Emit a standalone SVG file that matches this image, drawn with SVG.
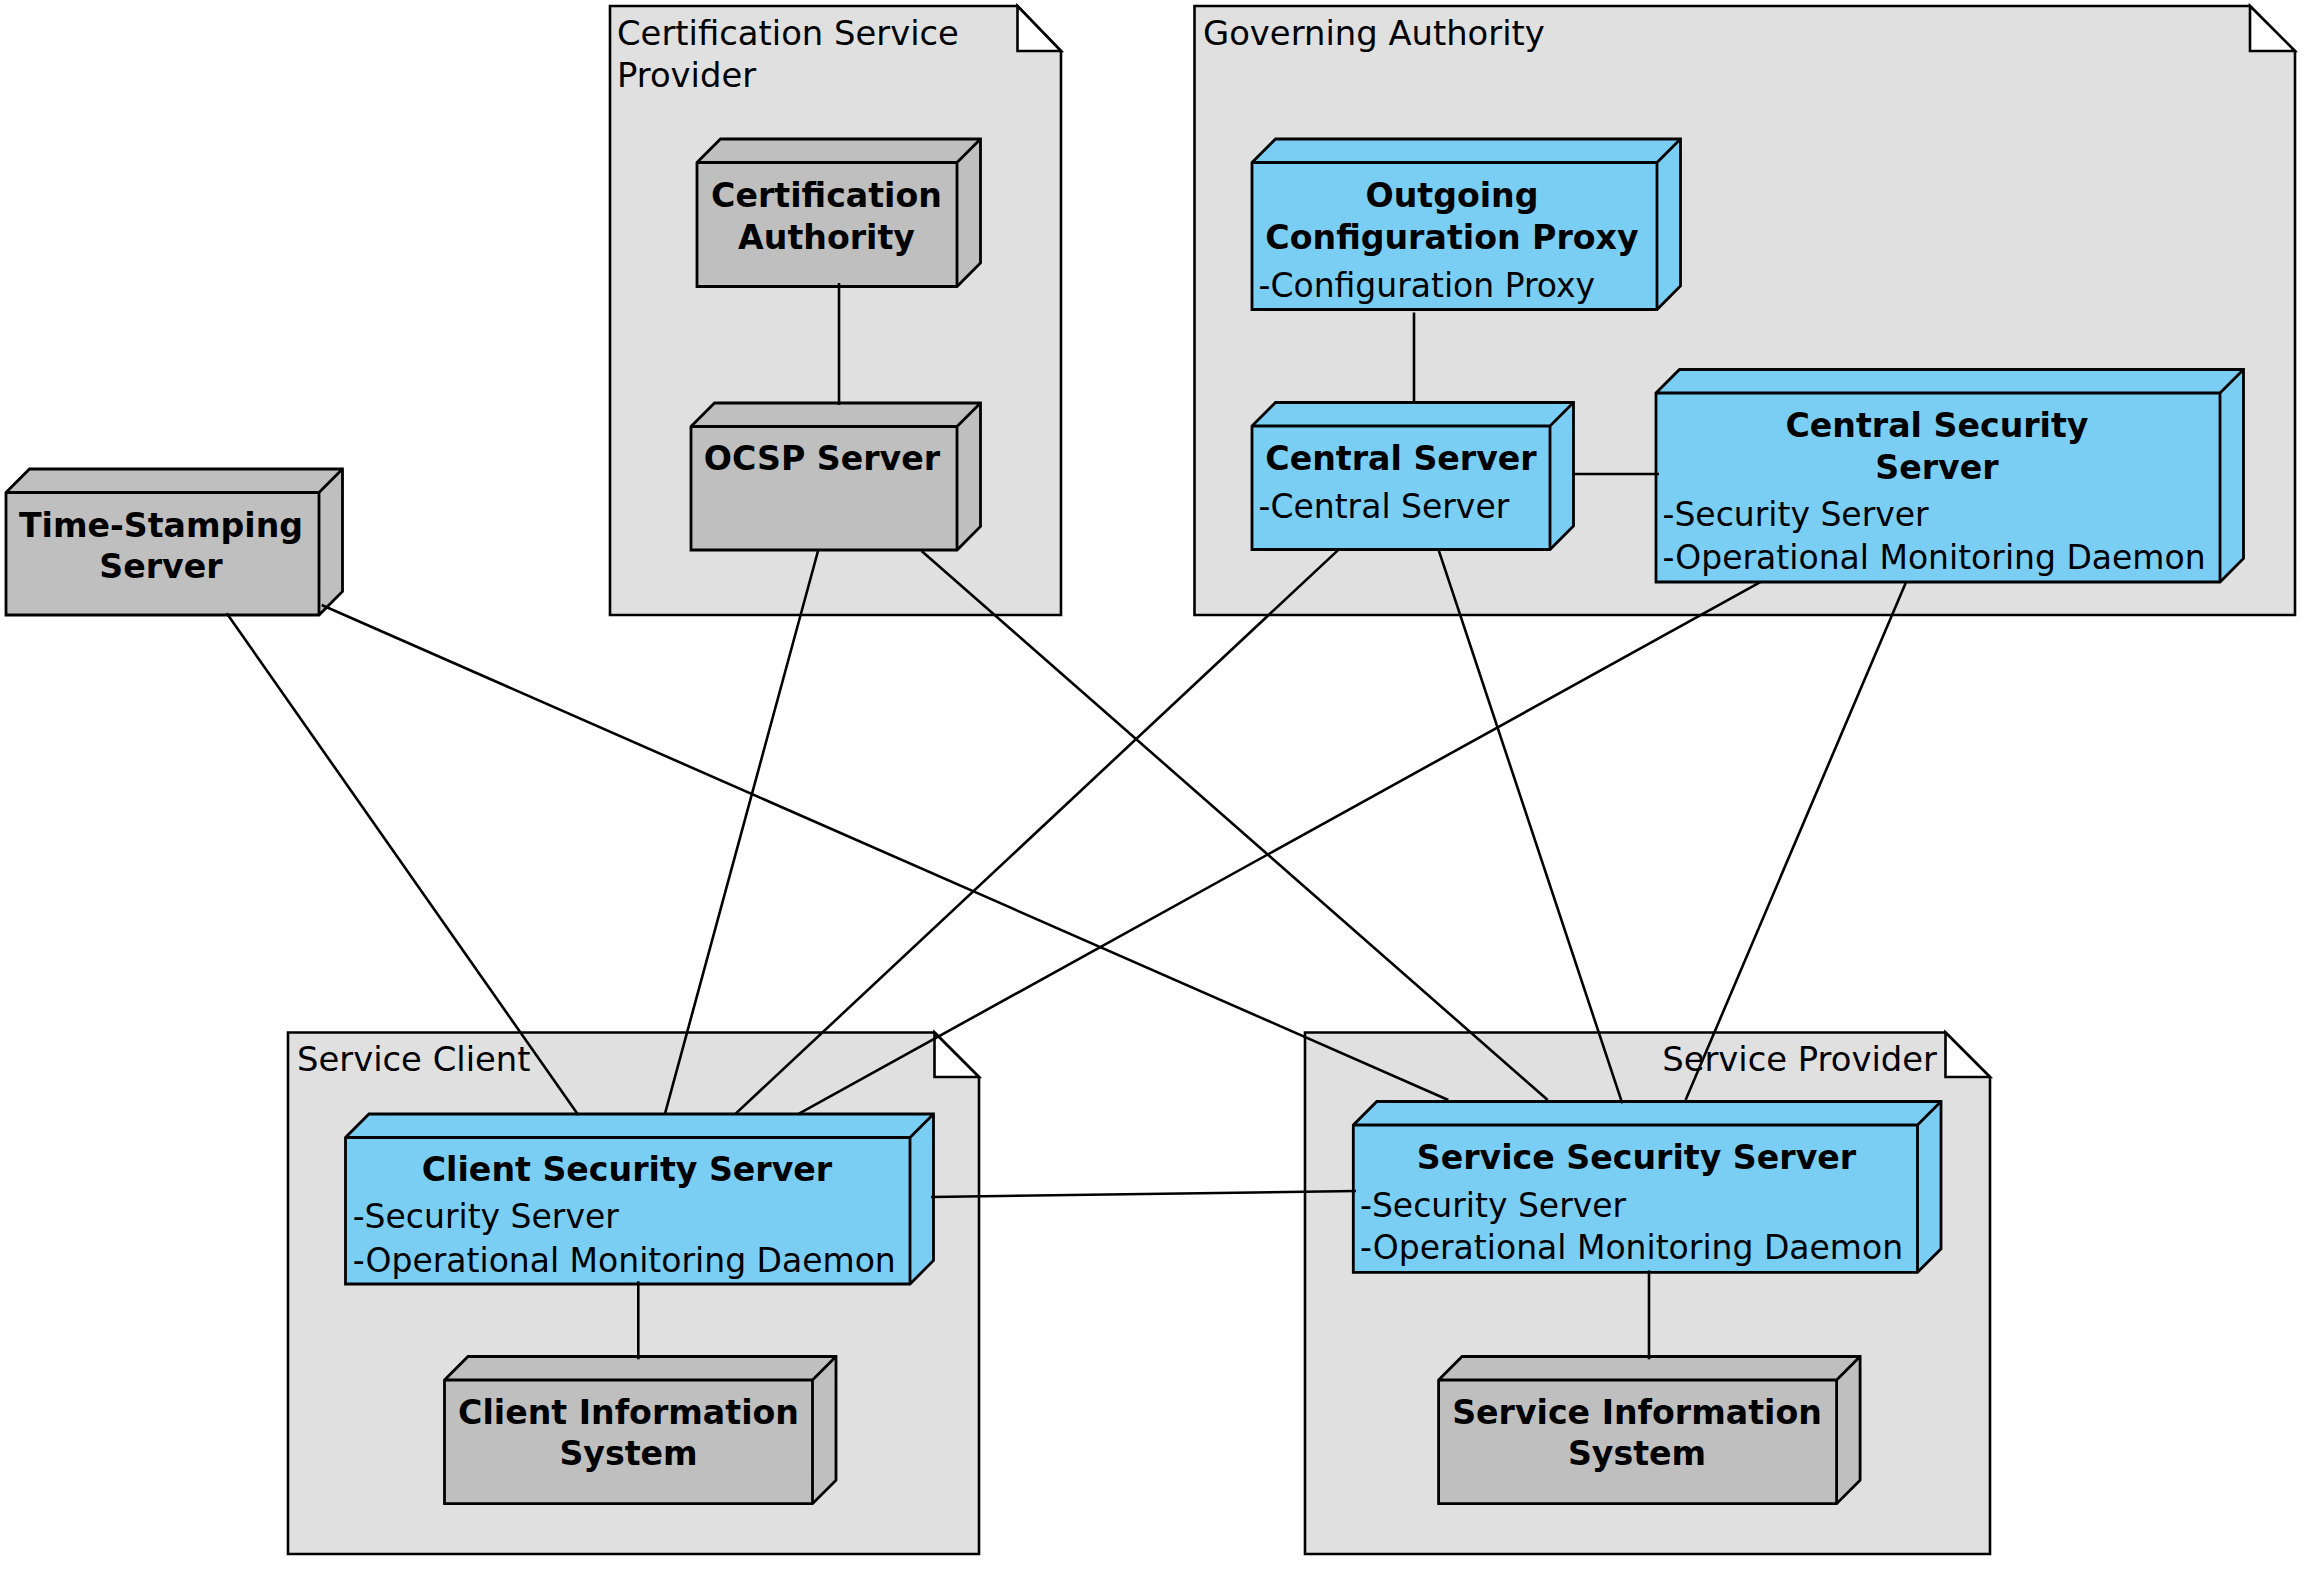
<svg xmlns="http://www.w3.org/2000/svg" width="2304" height="1569" viewBox="0 0 2304 1569">
<style>
.pkg{fill:#E0E0E0;stroke:#000;stroke-width:2.6;stroke-linejoin:miter}
.fold{fill:#FFFFFF;stroke:#000;stroke-width:2.6}
.blue{fill:#7ACEF4;stroke:#000;stroke-width:2.8;stroke-linejoin:miter}
.gray{fill:#BFBFBF;stroke:#000;stroke-width:2.8;stroke-linejoin:miter}
.edge{fill:none;stroke:#000;stroke-width:2.6}
.lbl{font-family:"DejaVu Sans","Liberation Sans",sans-serif;font-size:33.8px;fill:#000}
.name{font-family:"DejaVu Sans","Liberation Sans",sans-serif;font-size:33.2px;font-weight:bold;fill:#000;text-anchor:middle}
.attr{font-family:"DejaVu Sans","Liberation Sans",sans-serif;font-size:33px;fill:#000}
</style>
<rect width="2304" height="1569" fill="#FFFFFF"/>

<g id="pkg-csp">
<path class="pkg" d="M610,6 L1017.5,6 L1061,51 L1061,615 L610,615 Z"/>
<path class="fold" d="M1017.5,6 L1017.5,51 L1061,51 Z"/>
<text class="lbl" x="617" y="45">Certification Service</text>
<text class="lbl" x="617" y="87">Provider</text>
</g>
<g id="pkg-ga">
<path class="pkg" d="M1194.5,6 L2250,6 L2295,51 L2295,615 L1194.5,615 Z"/>
<path class="fold" d="M2250,6 L2250,51 L2295,51 Z"/>
<text class="lbl" x="1203" y="45">Governing Authority</text>
</g>
<g id="pkg-client">
<path class="pkg" d="M288,1032.5 L934.5,1032.5 L979,1077 L979,1554 L288,1554 Z"/>
<path class="fold" d="M934.5,1032.5 L934.5,1077 L979,1077 Z"/>
<text class="lbl" x="297" y="1071">Service Client</text>
</g>
<g id="pkg-provider">
<path class="pkg" d="M1305,1032.5 L1945.5,1032.5 L1990,1077 L1990,1554 L1305,1554 Z"/>
<path class="fold" d="M1945.5,1032.5 L1945.5,1077 L1990,1077 Z"/>
<text class="lbl" x="1937" y="1071" text-anchor="end">Service Provider</text>
</g>

<g id="node-tss">
<path class="gray" d="M6,492.5 L29.5,469 L342.5,469 L342.5,591.5 L319,615 L6,615 Z M6,492.5 L319,492.5 L319,615 M319,492.5 L342.5,469"/>
<text class="name" x="161" y="537.3">Time-Stamping</text>
<text class="name" x="161" y="578.3">Server</text>
</g>
<g id="node-ca">
<path class="gray" d="M697,162.5 L720.5,139 L980.5,139 L980.5,263 L957,286.5 L697,286.5 Z M697,162.5 L957,162.5 L957,286.5 M957,162.5 L980.5,139"/>
<text class="name" x="826.5" y="206.5">Certification</text>
<text class="name" x="826.5" y="248.5">Authority</text>
</g>
<g id="node-ocsp">
<path class="gray" d="M691,426.5 L714.5,403 L980.5,403 L980.5,526.5 L957,550 L691,550 Z M691,426.5 L957,426.5 L957,550 M957,426.5 L980.5,403"/>
<text class="name" x="822" y="469.5">OCSP Server</text>
</g>
<g id="node-ocp">
<path class="blue" d="M1252,162.5 L1275.5,139 L1680.5,139 L1680.5,286 L1657,309.5 L1252,309.5 Z M1252,162.5 L1657,162.5 L1657,309.5 M1657,162.5 L1680.5,139"/>
<text class="name" x="1452" y="207.3">Outgoing</text>
<text class="name" x="1452" y="249.3">Configuration Proxy</text>
<text class="attr" x="1258.5" y="296.7">-Configuration Proxy</text>
</g>
<g id="node-cs">
<path class="blue" d="M1252,426 L1275.5,402.5 L1573.5,402.5 L1573.5,526 L1550,549.5 L1252,549.5 Z M1252,426 L1550,426 L1550,549.5 M1550,426 L1573.5,402.5"/>
<text class="name" x="1401" y="469.5">Central Server</text>
<text class="attr" x="1258.5" y="517.5">-Central Server</text>
</g>
<g id="node-css">
<path class="blue" d="M1656,393 L1679.5,369.5 L2243.5,369.5 L2243.5,558.5 L2220,582 L1656,582 Z M1656,393 L2220,393 L2220,582 M2220,393 L2243.5,369.5"/>
<text class="name" x="1937" y="437">Central Security</text>
<text class="name" x="1937" y="478.5">Server</text>
<text class="attr" x="1662.5" y="526">-Security Server</text>
<text class="attr" x="1662.5" y="569">-Operational Monitoring Daemon</text>
</g>
<g id="node-clientss">
<path class="blue" d="M345.5,1137.5 L369,1114 L933.5,1114 L933.5,1260.5 L910,1284 L345.5,1284 Z M345.5,1137.5 L910,1137.5 L910,1284 M910,1137.5 L933.5,1114"/>
<text class="name" x="627" y="1181">Client Security Server</text>
<text class="attr" x="352.7" y="1228.3">-Security Server</text>
<text class="attr" x="352.7" y="1271.7">-Operational Monitoring Daemon</text>
</g>
<g id="node-cis">
<path class="gray" d="M444.5,1380 L468,1356.5 L836,1356.5 L836,1480.2 L812.5,1503.7 L444.5,1503.7 Z M444.5,1380 L812.5,1380 L812.5,1503.7 M812.5,1380 L836,1356.5"/>
<text class="name" x="628.5" y="1423.5">Client Information</text>
<text class="name" x="628.5" y="1465">System</text>
</g>
<g id="node-servicess">
<path class="blue" d="M1353.3,1125 L1376.8,1101.5 L1941,1101.5 L1941,1248.8 L1917.5,1272.3 L1353.3,1272.3 Z M1353.3,1125 L1917.5,1125 L1917.5,1272.3 M1917.5,1125 L1941,1101.5"/>
<text class="name" x="1636.5" y="1169">Service Security Server</text>
<text class="attr" x="1360" y="1216.7">-Security Server</text>
<text class="attr" x="1360" y="1259.3">-Operational Monitoring Daemon</text>
</g>
<g id="node-sis">
<path class="gray" d="M1438.6,1380 L1462.1,1356.5 L1860.1,1356.5 L1860.1,1480.2 L1836.6,1503.7 L1438.6,1503.7 Z M1438.6,1380 L1836.6,1380 L1836.6,1503.7 M1836.6,1380 L1860.1,1356.5"/>
<text class="name" x="1637" y="1423.5">Service Information</text>
<text class="name" x="1637" y="1465">System</text>
</g>

<g id="connectors">
<line class="edge" x1="839" y1="283" x2="839" y2="405"/>
<line class="edge" x1="1414" y1="312.5" x2="1414" y2="401.5"/>
<line class="edge" x1="1572" y1="474" x2="1659" y2="474"/>
<line class="edge" x1="226.7" y1="613.3" x2="578.3" y2="1115"/>
<line class="edge" x1="321.7" y1="605" x2="1448.3" y2="1100"/>
<line class="edge" x1="818" y1="551" x2="665" y2="1113.6"/>
<line class="edge" x1="921.6" y1="551" x2="1547.7" y2="1100"/>
<line class="edge" x1="1338.6" y1="549.6" x2="735.7" y2="1113.6"/>
<line class="edge" x1="1438.5" y1="549.6" x2="1622.3" y2="1103.4"/>
<line class="edge" x1="1760.3" y1="582.2" x2="799" y2="1113.6"/>
<line class="edge" x1="1906" y1="582.2" x2="1685.6" y2="1100"/>
<line class="edge" x1="931" y1="1197" x2="1356" y2="1191"/>
<line class="edge" x1="638.3" y1="1281.3" x2="638.3" y2="1359.3"/>
<line class="edge" x1="1649" y1="1270.4" x2="1649" y2="1359.3"/>
</g>
</svg>
